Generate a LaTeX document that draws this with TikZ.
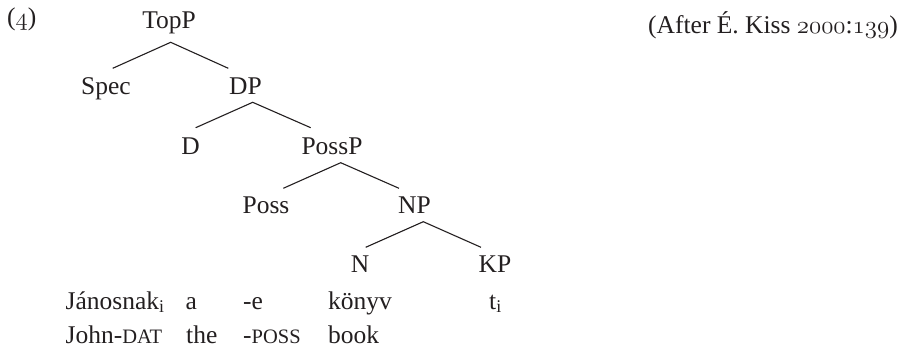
\documentclass[tikz,border=0pt]{standalone}
\usepackage{fontspec}
\setmainfont{Liberation Serif}
\usetikzlibrary{calc}
\definecolor{ink}{HTML}{231F20}
\newcommand\fakesc[1]{{\fontsize{20.5}{24}\selectfont #1}}
\newcommand\osnum[1]{{\usefont{OML}{cmm}{m}{it}#1}}
\begin{document}
\begin{tikzpicture}[x=1pt,y=-1pt,
  font=\fontsize{25.5}{30}\selectfont, text=ink,
  cat/.style={inner sep=0pt, anchor=base},
  gl/.style={inner sep=0pt, anchor=base west},
  branch/.style={draw=ink, line width=1.1pt}]
\useasboundingbox (0,0) rectangle (904,349);

% example number and source
\node[gl] (num) at (7,25.5) {(\osnum{4})};
\node[gl] (src) at (648,33) {(After É. Kiss \osnum{2000}:\osnum{139})};

% tree categories
\node[cat] (TopP)  at (169,28)   {TopP};
\node[cat] (Spec)  at (106,94)   {Spec};
\node[cat] (DP)    at (245.5,94) {DP};
\node[cat] (D)     at (190.5,154){D};
\node[cat] (PossP) at (332,154)  {PossP};
\node[cat] (Poss)  at (266,213)  {Poss};
\node[cat] (NP)    at (414.5,213){NP};
\node[cat] (N)     at (360,272)  {N};
\node[cat] (KP)    at (495,272)  {KP};

% branches
\draw[branch] ($(Spec.base)+(6.7,-25.7)$) -- ($(TopP.base)+(1.7,14.3)$) -- ($(DP.base)+(-17.2,-25.7)$);
\draw[branch] ($(D.base)+(5.2,-26.3)$) -- ($(DP.base)+(7.2,8.3)$) -- ($(PossP.base)+(-21.3,-26.3)$);
\draw[branch] ($(Poss.base)+(17.3,-24.7)$) -- ($(PossP.base)+(8.7,8.7)$) -- ($(NP.base)+(-15.5,-24.7)$);
\draw[branch] ($(N.base)+(5.7,-24.7)$) -- ($(NP.base)+(8.8,8.7)$) -- ($(KP.base)+(-14,-24.7)$);

% words
\node[gl] (w1) at (65.5,309) {Jánosnak\textsubscript{i}};
\node[gl] (w2) at (185.5,309) {a};
\node[gl] (w3) at (243,309) {-e};
\node[gl] (w4) at (328,309) {könyv};
\node[gl] (w5) at (489,309) {t\textsubscript{i}};

% gloss
\node[gl] (g1) at (65.5,343) {John-\fakesc{DAT}};
\node[gl] (g2) at (186,343) {the};
\node[gl] (g3) at (243,343) {-\fakesc{POSS}};
\node[gl] (g4) at (328,343) {book};
\end{tikzpicture}
\end{document}
